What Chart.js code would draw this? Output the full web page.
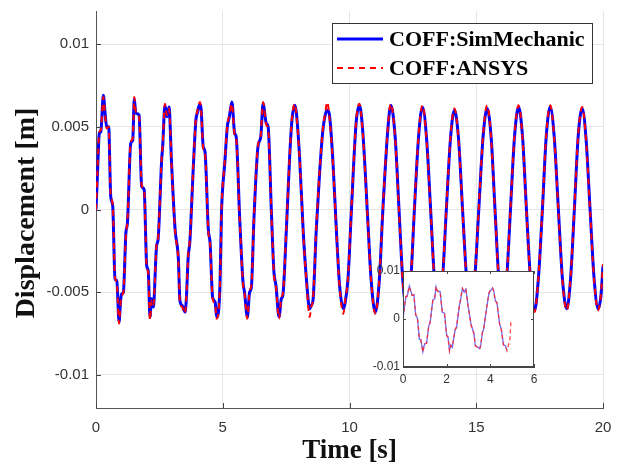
<!DOCTYPE html>
<html>
<head>
<meta charset="utf-8">
<script src="https://cdn.jsdelivr.net/npm/chart.js@4.4.1/dist/chart.umd.min.js"></script>
<style>
  html, body { margin: 0; padding: 0; background: #fff; }
  #wrap { position: relative; width: 624px; height: 466px; }
  #main { position: absolute; left: 0; top: 0; width: 624px; height: 466px; }
  #inset { position: absolute; left: 355px; top: 258px; width: 195px; height: 140px; }
</style>
</head>
<body>
<div id="wrap">
  <div id="main"><canvas id="mainChart"></canvas></div>
  <div id="inset"><canvas id="insetChart"></canvas></div>
</div>
<script>
// time [s] (peaks, troughs, shoulders)
const timeS = [
  0.00, 0.06, 0.13, 0.19, 0.29, 0.36, 0.42, 0.50, 0.58, 0.66,
  0.75, 0.82, 0.91, 0.97, 1.01, 1.08, 1.18, 1.24, 1.37, 1.45,
  1.51, 1.56, 1.60, 1.70, 1.80, 1.90, 2.00, 2.06, 2.13, 2.19,
  2.26, 2.39, 2.45, 2.59, 2.63, 2.72, 2.80, 2.88, 2.98, 3.12,
  3.25, 3.31, 3.40, 3.51, 3.56, 3.64, 3.70, 3.84, 3.94, 3.99,
  4.10, 4.15, 4.23, 4.30, 4.43, 4.50, 4.60, 4.70, 4.76, 4.89,
  4.95, 5.08, 5.18, 5.26, 5.36, 5.47, 5.53, 5.67, 5.80, 5.86,
  5.97, 6.06, 6.13, 6.23, 6.39, 6.50, 6.59, 6.72, 6.79, 6.92,
  7.02, 7.10, 7.22, 7.31, 7.37, 7.51, 7.64, 7.73, 7.84, 7.90,
  8.03, 8.17, 8.30, 8.43, 8.49, 8.56, 8.69, 8.82, 8.95, 9.04,
  9.12, 9.20, 9.35, 9.48, 9.61, 9.76, 9.82, 9.94, 10.07, 10.26,
  10.39, 10.52, 10.72, 10.85, 11.02, 11.18, 11.31, 11.51, 11.63, 11.80,
  11.96, 12.10, 12.26, 12.42, 12.56, 12.73, 12.88, 13.04, 13.20, 13.35,
  13.51, 13.67, 13.82, 13.99, 14.14, 14.30, 14.46, 14.62, 14.78, 14.94,
  15.10, 15.27, 15.43, 15.59, 15.74, 15.89, 16.05, 16.20, 16.35, 16.51,
  16.67, 16.83, 16.98, 17.14, 17.30, 17.45, 17.61, 17.76, 17.92, 18.08,
  18.24, 18.40, 18.57, 18.72, 18.87, 19.02, 19.18, 19.33, 19.49, 19.65,
  19.81, 19.92, 20.00
]

// displacement [m]
const simMechanic = [
  0, 0.0022, 0.0046, 0.0047, 0.0069, 0.0058, 0.0050, 0.0050, 0.0008, 0.0002,
  -0.0042, -0.0043, -0.0068, -0.0055, -0.0051, -0.0050, -0.0014, -0.0008, 0.0040, 0.0042,
  0.0067, 0.0059, 0.0058, 0.0057, 0.0014, 0.0012, -0.0034, -0.0037, -0.0065, -0.0054,
  -0.0059, -0.0022, -0.0018, 0.0030, 0.0038, 0.0063, 0.0056, 0.0062, 0.0028, -0.0012,
  -0.0030, -0.0055, -0.0058, -0.0062, -0.0055, -0.0028, -0.0020, 0.0026, 0.0054, 0.0058,
  0.0064, 0.0060, 0.0038, 0.0035, -0.0012, -0.0020, -0.0053, -0.0056, -0.0065, -0.0046,
  -0.0002, 0.0028, 0.0050, 0.0056, 0.0065, 0.0046, 0.0044, -0.0006, -0.0044, -0.0050,
  -0.0065, -0.0050, -0.0047, -0.0006, 0.0038, 0.0044, 0.0064, 0.0052, 0.0050, -0.0002,
  -0.0038, -0.0046, -0.0065, -0.0054, -0.0052, -0.0012, 0.0032, 0.0054, 0.0063, 0.0059,
  0.0032, -0.0012, -0.0042, -0.0060, -0.0058, -0.0055, -0.0012, 0.0022, 0.0048, 0.0057,
  0.0060, 0.0058, 0.0028, -0.0012, -0.0046, -0.0060, -0.0057, -0.0042, -0.0002, 0.0052,
  0.0063, 0.0048, -0.0006, -0.0042, -0.0062, -0.0042, -0.0002, 0.0048, 0.0063, 0.0044,
  -0.0002, -0.0042, -0.0061, -0.0042, 0.0000, 0.0045, 0.0062, 0.0043, 0.0000, -0.0042,
  -0.0061, -0.0042, 0.0000, 0.0044, 0.0060, 0.0043, 0.0000, -0.0042, -0.0061, -0.0042,
  0.0000, 0.0044, 0.0061, 0.0043, 0.0000, -0.0042, -0.0061, -0.0042, 0.0000, 0.0044,
  0.0062, 0.0043, 0.0000, -0.0042, -0.0061, -0.0042, 0.0000, 0.0044, 0.0062, 0.0043,
  0.0000, -0.0042, -0.0060, -0.0042, 0.0000, 0.0044, 0.0061, 0.0043, 0.0000, -0.0042,
  -0.0060, -0.0052, -0.0034
]

const ansys = [
  0, 0.0024, 0.0047, 0.0048, 0.0068, 0.0057, 0.0049, 0.0050, 0.0009, 0.0003,
  -0.0041, -0.0044, -0.0069, -0.0056, -0.0052, -0.0050, -0.0015, -0.0007, 0.0041, 0.0043,
  0.0068, 0.0060, 0.0057, 0.0056, 0.0015, 0.0011, -0.0035, -0.0038, -0.0067, -0.0055,
  -0.0058, -0.0021, -0.0017, 0.0031, 0.0039, 0.0064, 0.0057, 0.0061, 0.0027, -0.0013,
  -0.0031, -0.0056, -0.0059, -0.0063, -0.0054, -0.0027, -0.0019, 0.0027, 0.0055, 0.0059,
  0.0065, 0.0059, 0.0037, 0.0034, -0.0013, -0.0021, -0.0054, -0.0057, -0.0066, -0.0045,
  -0.0001, 0.0029, 0.0051, 0.0057, 0.0064, 0.0045, 0.0043, -0.0007, -0.0045, -0.0051,
  -0.0066, -0.0049, -0.0046, -0.0005, 0.0039, 0.0045, 0.0065, 0.0051, 0.0049, -0.0003,
  -0.0039, -0.0047, -0.0066, -0.0053, -0.0051, -0.0011, 0.0033, 0.0055, 0.0064, 0.0058,
  0.0031, -0.0013, -0.0043, -0.0065, -0.0059, -0.0054, -0.0011, 0.0023, 0.0049, 0.0058,
  0.0065, 0.0057, 0.0027, -0.0013, -0.0047, -0.0063, -0.0056, -0.0041, -0.0001, 0.0053,
  0.0064, 0.0047, -0.0007, -0.0043, -0.0063, -0.0041, -0.0001, 0.0049, 0.0064, 0.0043,
  -0.0003, -0.0043, -0.0062, -0.0041, 0.0001, 0.0046, 0.0063, 0.0042, -0.0001, -0.0043,
  -0.0062, -0.0041, 0.0001, 0.0045, 0.0061, 0.0042, -0.0001, -0.0043, -0.0062, -0.0041,
  0.0001, 0.0045, 0.0063, 0.0042, -0.0001, -0.0043, -0.0062, -0.0041, 0.0001, 0.0045,
  0.0063, 0.0042, -0.0001, -0.0043, -0.0062, -0.0041, 0.0001, 0.0045, 0.0063, 0.0042,
  -0.0001, -0.0043, -0.0061, -0.0041, 0.0001, 0.0045, 0.0062, 0.0042, -0.0001, -0.0043,
  -0.0061, -0.0051, -0.0033
]

const seriesNames = ['COFF:SimMechanic', 'COFF:ANSYS']
const xTicks = [0, 5, 10, 15, 20]
const yTicks = [-0.01, -0.005, 0, 0.005, 0.01]
const insetXTicks = [0, 2, 4, 6]
const insetYTicks = [-0.01, 0, 0.01]
const insetEnd = [4.8, 4.95]   // last time shown in the zoom box for each series

const tickFont = { family: 'Liberation Sans, Arial, sans-serif', size: 15 }
const smallFont = { family: 'Liberation Sans, Arial, sans-serif', size: 12 }

function pts(vals, tmax) {
  const out = []
  for (let i = 0; i < timeS.length; i++) {
    if (timeS[i] <= tmax) out.push({ x: timeS[i], y: vals[i] })
  }
  return out
}

// keep chart area where the layout padding puts it
function noEdgePad(s) {
  s.paddingTop = 0
  s.paddingBottom = 0
  s.paddingLeft = 0
  s.paddingRight = 0
}

// MATLAB style tick marks pointing into the plot
const insideTicks = {
  id: 'insideTicks',
  afterDraw(chart, args, opts) {
    const { ctx, chartArea: a, scales: { x, y } } = chart
    const len = opts.length || 5
    ctx.save()
    ctx.strokeStyle = opts.color || '#444'
    ctx.lineWidth = 1
    ctx.beginPath()
    x.ticks.forEach(t => {
      const px = Math.round(x.getPixelForValue(t.value)) + 0.5
      ctx.moveTo(px, a.bottom); ctx.lineTo(px, a.bottom - len)
      if (opts.box) { ctx.moveTo(px, a.top); ctx.lineTo(px, a.top + len) }
    })
    y.ticks.forEach(t => {
      const py = Math.round(y.getPixelForValue(t.value)) + 0.5
      ctx.moveTo(a.left, py); ctx.lineTo(a.left + len, py)
      if (opts.box) { ctx.moveTo(a.right, py); ctx.lineTo(a.right - len, py) }
    })
    ctx.stroke()
    if (opts.box) {
      ctx.strokeRect(Math.round(a.left) + 0.5, Math.round(a.top) + 0.5,
        Math.round(a.right - a.left) - 1, Math.round(a.bottom - a.top) - 1)
    }
    ctx.restore()
  }
}

const areaFill = {
  id: 'areaFill',
  beforeDraw(chart) {
    const { ctx, chartArea: a } = chart
    ctx.save()
    ctx.fillStyle = '#fff'
    ctx.fillRect(a.left, a.top, a.right - a.left, a.bottom - a.top)
    ctx.restore()
  }
}

// boxed legend in the top right corner
const boxLegend = {
  id: 'boxLegend',
  afterDraw(chart, args, o) {
    const ctx = chart.ctx
    const bx = Math.round(chart.chartArea.right - o.right - o.w)
    const by = Math.round(chart.chartArea.top + o.top)
    ctx.save()
    ctx.fillStyle = '#fff'
    ctx.fillRect(bx, by, o.w, o.h)
    ctx.strokeStyle = '#333'
    ctx.lineWidth = 1
    ctx.strokeRect(bx + 0.5, by + 0.5, o.w, o.h)
    ctx.font = 'bold 22px "Liberation Serif", serif'
    ctx.textBaseline = 'alphabetic'
    chart.data.datasets.forEach((ds, i) => {
      const cy = by + 16 + i * 29
      ctx.strokeStyle = ds.borderColor
      ctx.lineWidth = ds.borderWidth
      ctx.setLineDash(ds.borderDash || [])
      ctx.beginPath()
      ctx.moveTo(bx + 5, cy)
      ctx.lineTo(bx + 51, cy)
      ctx.stroke()
      ctx.setLineDash([])
      ctx.fillStyle = '#000'
      ctx.fillText(ds.label, bx + 57, cy + 7)
    })
    ctx.restore()
  }
}

new Chart(document.getElementById('mainChart'), {
  type: 'line',
  data: {
    datasets: [
      {
        label: seriesNames[0],
        data: pts(simMechanic, 99),
        borderColor: '#0000ff',
        borderWidth: 3,
        pointRadius: 0,
        cubicInterpolationMode: 'monotone',
        order: 2,
      },
      {
        label: seriesNames[1],
        data: pts(ansys, 99),
        borderColor: '#ff0000',
        borderWidth: 2,
        borderDash: [6, 5],
        pointRadius: 0,
        cubicInterpolationMode: 'monotone',
        order: 1,
      },
    ],
  },
  options: {
    responsive: true,
    maintainAspectRatio: false,
    animation: false,
    devicePixelRatio: 1,
    layout: { padding: { top: 11, right: 21, left: 0, bottom: 0 } },
    plugins: {
      legend: { display: false },
      tooltip: { enabled: false },
      insideTicks: { length: 5, color: '#444' },
      boxLegend: { w: 260, h: 60, right: 11, top: 12 },
    },
    scales: {
      x: {
        type: 'linear',
        min: 0,
        max: 20,
        afterBuildTicks: s => { s.ticks = xTicks.map(v => ({ value: v })) },
        afterFit: s => { s.height = 58; noEdgePad(s) },
        grid: { color: '#e6e6e6', drawTicks: false },
        border: { color: '#555', width: 1 },
        ticks: { font: tickFont, color: '#333', padding: 11, maxRotation: 0, callback: v => String(v) },
        title: {
          display: true, text: 'Time [s]', color: '#111',
          font: { family: 'Liberation Serif, serif', size: 27, weight: 'bold', lineHeight: 1 },
          padding: { top: 0, bottom: 1 },
        },
      },
      y: {
        type: 'linear',
        min: -0.012,
        max: 0.012,
        afterBuildTicks: s => { s.ticks = yTicks.map(v => ({ value: v })) },
        afterFit: s => { s.width = 96; noEdgePad(s) },
        grid: { color: '#e6e6e6', drawTicks: false },
        border: { color: '#555', width: 1 },
        ticks: { font: tickFont, color: '#333', padding: 7, callback: v => String(v) },
        title: {
          display: true, text: 'Displacement [m] ', color: '#111',
          font: { family: 'Liberation Serif, serif', size: 28, weight: 'bold', lineHeight: 1 },
          padding: { top: 12.5, bottom: 0 },
        },
      },
    },
  },
  plugins: [insideTicks, boxLegend],
})

// zoom box with the first seconds of both series
new Chart(document.getElementById('insetChart'), {
  type: 'line',
  data: {
    datasets: [
      {
        label: seriesNames[0],
        data: pts(simMechanic, insetEnd[0]),
        borderColor: 'rgba(60,60,255,0.75)',
        borderWidth: 1.3,
        pointRadius: 0,
        order: 2,
      },
      {
        label: seriesNames[1],
        data: pts(ansys, insetEnd[1]),
        borderColor: 'rgba(255,40,40,0.85)',
        borderWidth: 1.3,
        borderDash: [4, 3],
        pointRadius: 0,
        order: 1,
      },
    ],
  },
  options: {
    responsive: true,
    maintainAspectRatio: false,
    animation: false,
    devicePixelRatio: 1,
    layout: { padding: { top: 13, right: 16, left: 0, bottom: 0 } },
    plugins: {
      legend: { display: false },
      tooltip: { enabled: false },
      insideTicks: { length: 3, color: '#444', box: true },
    },
    scales: {
      x: {
        type: 'linear',
        min: 0,
        max: 6,
        afterBuildTicks: s => { s.ticks = insetXTicks.map(v => ({ value: v })) },
        afterFit: s => { s.height = 31; noEdgePad(s) },
        grid: { display: false, drawTicks: false },
        border: { color: '#444', width: 1 },
        ticks: { font: smallFont, color: '#333', padding: 5, maxRotation: 0, callback: v => String(v) },
      },
      y: {
        type: 'linear',
        min: -0.01,
        max: 0.01,
        afterBuildTicks: s => { s.ticks = insetYTicks.map(v => ({ value: v })) },
        afterFit: s => { s.width = 48; noEdgePad(s) },
        grid: { display: false, drawTicks: false },
        border: { color: '#444', width: 1 },
        ticks: { font: smallFont, color: '#333', padding: 3, callback: v => String(v) },
      },
    },
  },
  plugins: [areaFill, insideTicks],
})
</script>
</body>
</html>
